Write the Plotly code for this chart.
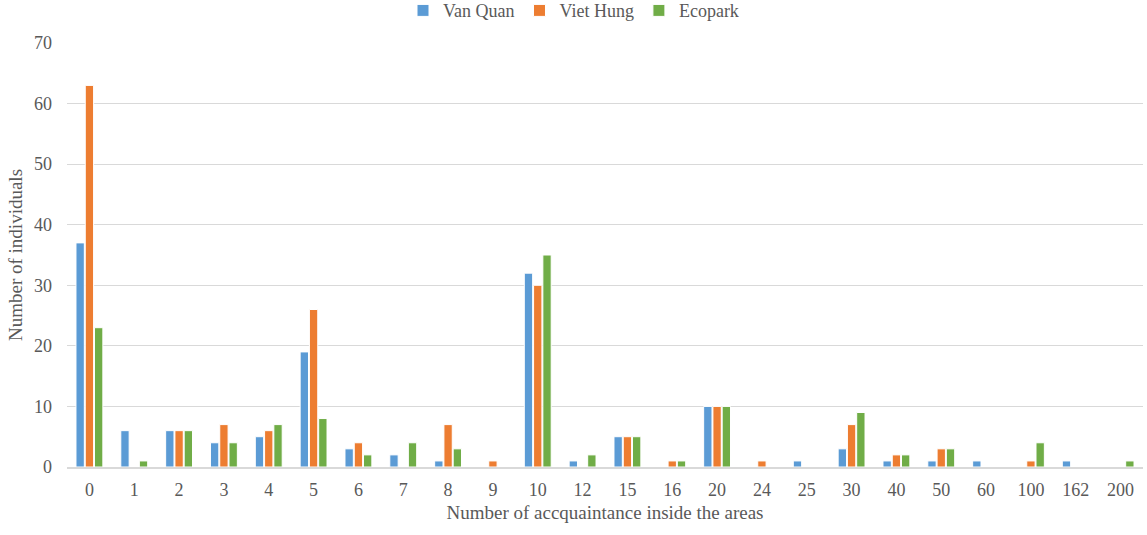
import plotly.graph_objects as go

categories = ["0", "1", "2", "3", "4", "5", "6", "7", "8", "9", "10", "12",
              "15", "16", "20", "24", "25", "30", "40", "50", "60", "100", "162", "200"]
van_quan = [37, 6, 6, 4, 5, 19, 3, 2, 1, 0, 32, 1, 5, 0, 10, 0, 1, 3, 1, 1, 1, 0, 1, 0]
viet_hung = [63, 0, 6, 7, 6, 26, 4, 0, 7, 1, 30, 0, 5, 1, 10, 1, 0, 7, 2, 3, 0, 1, 0, 0]
ecopark = [23, 1, 6, 4, 7, 8, 2, 4, 3, 0, 35, 2, 5, 1, 10, 0, 0, 9, 2, 3, 0, 4, 0, 1]

series = [("Van Quan", van_quan, "#5B9BD5"),
          ("Viet Hung", viet_hung, "#ED7D31"),
          ("Ecopark", ecopark, "#70AD47")]

fig = go.Figure()
for name, vals, color in series:
    fig.add_trace(go.Bar(
        x=categories, y=vals, name=name,
        marker=dict(color=color, line=dict(color="white", width=1)),
    ))

font_family = "Liberation Serif, Times New Roman, serif"
text_color = "#595959"
fig.update_layout(
    width=1147, height=535,
    margin=dict(l=67, r=4, t=43, b=68, autoexpand=False),
    paper_bgcolor="white", plot_bgcolor="white",
    barmode="group", bargap=0.38, bargroupgap=0.1,
    font=dict(family=font_family, size=18, color=text_color),
    legend=dict(orientation="h", xref="container", x=0.5, xanchor="center",
                yref="container", y=0.98, yanchor="middle",
                font=dict(family=font_family, size=18, color=text_color),
                itemwidth=30, traceorder="normal"),
    xaxis=dict(
        type="category",
        title=dict(text="Number of accquaintance inside the areas", standoff=7,
                   font=dict(size=19, color=text_color)),
        showline=True, linecolor="#D9D9D9", linewidth=2,
        ticks="", ticklabelstandoff=5,
        tickfont=dict(size=18, color=text_color),
    ),
    yaxis=dict(
        title=dict(text="Number of individuals", standoff=6,
                   font=dict(size=19, color=text_color)),
        range=[0, 70], dtick=10,
        showgrid=True, gridcolor="#D9D9D9", gridwidth=1,
        zeroline=False, ticks="", ticklabelstandoff=14,
        tickfont=dict(size=18, color=text_color),
    ),
)

fig.write_html("out.html")
